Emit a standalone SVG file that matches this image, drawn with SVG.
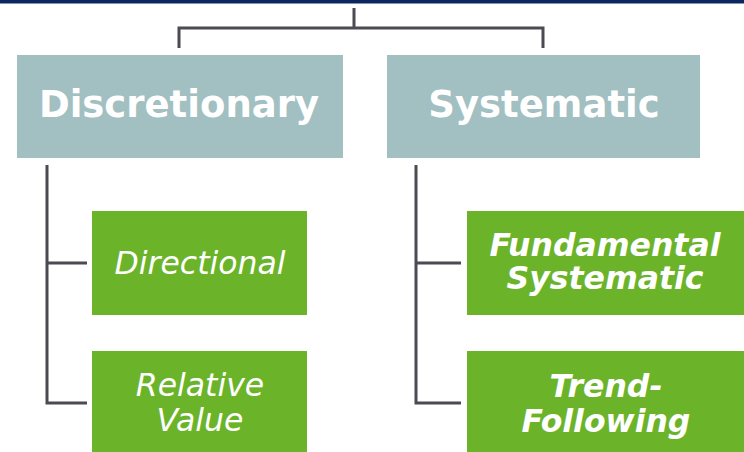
<svg xmlns="http://www.w3.org/2000/svg" width="744" height="452" viewBox="0 0 744 452">
<style>
.top{fill:#a2bfc2}
.leaf{fill:#6bb42a}
.t{fill:#ffffff;font-family:"DejaVu Sans",Verdana,sans-serif;text-anchor:middle}
.tb{font-size:37px;font-weight:bold}
.ti{font-size:31.5px;font-style:italic}
.tbi{font-size:31.5px;font-style:italic;font-weight:bold}
.c{fill:none;stroke:#4b4b53;stroke-width:3}
</style>
<rect x="0" y="0" width="744" height="452" fill="#ffffff"/>
<rect x="0" y="0" width="744" height="3.5" fill="#0c2660"/>
<g id="connectors">
<path class="c" d="M354 8 V28 M179 48 V28 H543 V48"/>
<path class="c" d="M47 165 V403 H87 M47 263 H87"/>
<path class="c" d="M416 165 V403 H461 M416 263 H461"/>
</g>
<g id="discretionary">
<rect class="top" x="17" y="55" width="326" height="103"/>
<text class="t tb" x="179" y="117">Discretionary</text>
</g>
<g id="systematic">
<rect class="top" x="387" y="55" width="313" height="103"/>
<text class="t tb" x="544" y="117">Systematic</text>
</g>
<g id="directional">
<rect class="leaf" x="92" y="211" width="215" height="104"/>
<text class="t ti" x="200" y="274">Directional</text>
</g>
<g id="relative-value">
<rect class="leaf" x="92" y="351" width="215" height="101"/>
<text class="t ti" x="200" y="396">Relative</text>
<text class="t ti" x="200" y="431">Value</text>
</g>
<g id="fundamental-systematic">
<rect class="leaf" x="467" y="211" width="277" height="104"/>
<text class="t tbi" x="605" y="256">Fundamental</text>
<text class="t tbi" x="605" y="289">Systematic</text>
</g>
<g id="trend-following">
<rect class="leaf" x="467" y="351" width="277" height="101"/>
<text class="t tbi" x="606" y="397">Trend-</text>
<text class="t tbi" x="606" y="432">Following</text>
</g>
</svg>
